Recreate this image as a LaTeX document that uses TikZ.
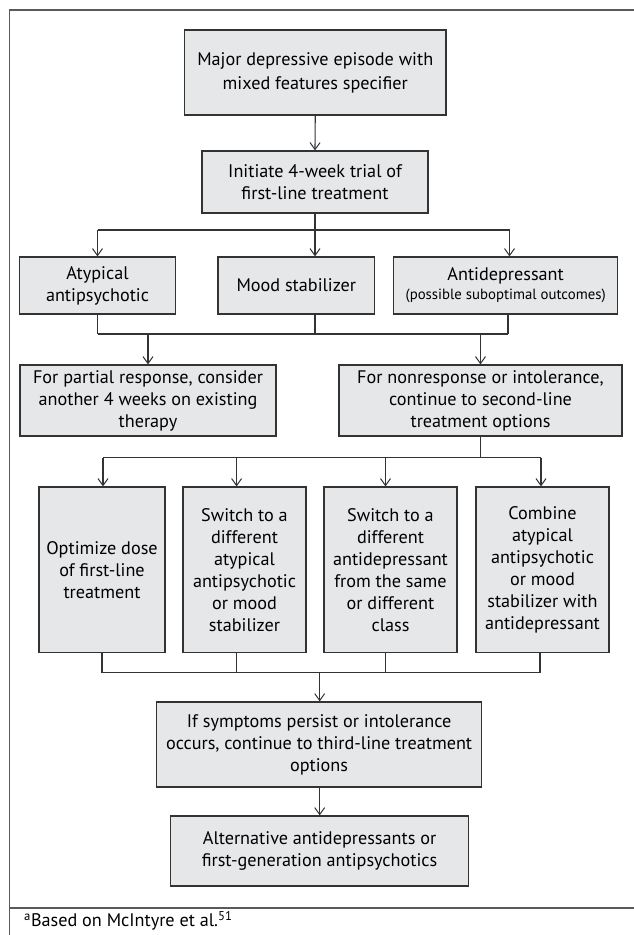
\documentclass[tikz,border=0pt]{standalone}
\usepackage{fontspec}
\setmainfont{PT Sans}
\usetikzlibrary{arrows.meta}
\definecolor{boxfill}{HTML}{E6E7E8}
\definecolor{boxline}{HTML}{333333}
\definecolor{frameline}{HTML}{5A5A5A}
\begin{document}
\begin{tikzpicture}[x=1pt,y=-1pt,
  box/.style={draw=boxline, fill=boxfill, line width=1.2pt, align=center, inner sep=2pt,
    font=\fontsize{18.2}{22}\selectfont},
  ln/.style={draw=boxline, line width=1.1pt},
  arr/.style={ln, -{Straight Barb[length=7pt,width=10pt,line width=1pt]}},
  frame/.style={draw=frameline, line width=1.4pt}]
\useasboundingbox (0,0) rectangle (633,935);
% frame
\draw[frame] (640,10) -- (9.7,10) -- (9.7,945);
\draw[frame] (9.7,908) -- (640,908);
% boxes
\node[box, minimum width=261.5, minimum height=85, font=\fontsize{18.2}{24}\selectfont] (b1) at (315.25,72.5) {Major depressive episode with\\mixed features specifier};
\node[box, minimum width=226, minimum height=62] (b2) at (315,182) {Initiate 4-week trial of\\first-line treatment};
\node[box, minimum width=156.2, minimum height=57] (a1) at (97.5,285.5) {Atypical\\antipsychotic};
\node[box, minimum width=156.6, minimum height=57] (a2) at (296.3,285.5) {Mood stabilizer};
\node[box, minimum width=224.1, minimum height=57] (a3) at (505.65,285.5) {Antidepressant\\[-3pt]{\fontsize{14.8}{18}\selectfont (possible suboptimal outcomes)}};
\node[box, minimum width=256, minimum height=71] (c1) at (148,400.5) {For partial response, consider\\another 4 weeks on existing\\therapy};
\node[box, minimum width=283, minimum height=71] (c2) at (480.5,400.5) {For nonresponse or intolerance,\\continue to second-line\\treatment options};
\node[box, minimum width=126, minimum height=165.7] (d1) at (102,569.85) {Optimize dose\\of first-line\\treatment};
\node[box, minimum width=123, minimum height=165.7] (d2) at (244.5,569.85) {Switch to a\\different\\atypical\\antipsychotic\\or mood\\stabilizer};
\node[box, minimum width=133, minimum height=165.7] (d3) at (390.5,569.85) {Switch to a\\different\\antidepressant\\from the same\\or different\\class};
\node[box, minimum width=133, minimum height=165.7] (d4) at (542.5,569.85) {Combine\\atypical\\antipsychotic\\or mood\\stabilizer with\\antidepressant};
\node[box, minimum width=325, minimum height=85] (e) at (319.1,744.5) {If symptoms persist or intolerance\\occurs, continue to third-line treatment\\options};
\node[box, minimum width=297.5, minimum height=70] (f) at (319.55,851) {Alternative antidepressants or\\first-generation antipsychotics};
\node[anchor=west, inner sep=0pt, font=\fontsize{18.2}{22}\selectfont] (note) at (24,921) {\textsuperscript{a}Based on McIntyre et al.\textsuperscript{51}};
% junctions
\coordinate (j1) at (315,230);
\coordinate (j1l) at (97.5,230);
\coordinate (j1r) at (509.5,230);
\coordinate (j2) at (315,334);
\coordinate (j2l) at (97.5,334);
\coordinate (j2r) at (508,334);
\coordinate (j3) at (480.5,457.7);
\coordinate (j3l) at (103,457.7);
\coordinate (j3r) at (541,457.7);
\coordinate (j4) at (319.7,672.7);
\coordinate (j4l) at (102,672.7);
\coordinate (j4r) at (540,672.7);
% connectors
\draw[arr] (b1.south) -- (b2.north);
\draw[ln] (b2.south) -- (j1);
\draw[ln] (j1l) -- (j1r);
\draw[arr] (j1l) -- (j1l |- a1.north);
\draw[arr] (j1) -- (j1 |- a2.north);
\draw[arr] (j1r) -- (j1r |- a3.north);
\draw[ln] (j2l |- a1.south) -- (j2l);
\draw[ln] (j2 |- a2.south) -- (j2);
\draw[ln] (j2r |- a3.south) -- (j2r);
\draw[ln] (j2l) -- (j2r);
\draw[arr] (c1.north |- j2) -- (c1.north);
\draw[arr] (c2.north |- j2) -- (c2.north);
\draw[ln] (c2.south) -- (j3);
\draw[ln] (j3l) -- (j3r);
\draw[arr] (j3l) -- (j3l |- d1.north);
\draw[arr] (236.6,457.7) -- (236.6,0 |- d2.north);
\draw[arr] (385.5,457.7) -- (385.5,0 |- d3.north);
\draw[arr] (j3r) -- (j3r |- d4.north);
\draw[ln] (j4l |- d1.south) -- (j4l);
\draw[ln] (236.6,0 |- d2.south) -- (236.6,672.7);
\draw[ln] (385.5,0 |- d3.south) -- (385.5,672.7);
\draw[ln] (j4r |- d4.south) -- (j4r);
\draw[ln] (j4l) -- (j4r);
\draw[arr] (j4) -- (j4 |- e.north);
\draw[arr] (e.south -| j4) -- (f.north -| j4);
\end{tikzpicture}
\end{document}
